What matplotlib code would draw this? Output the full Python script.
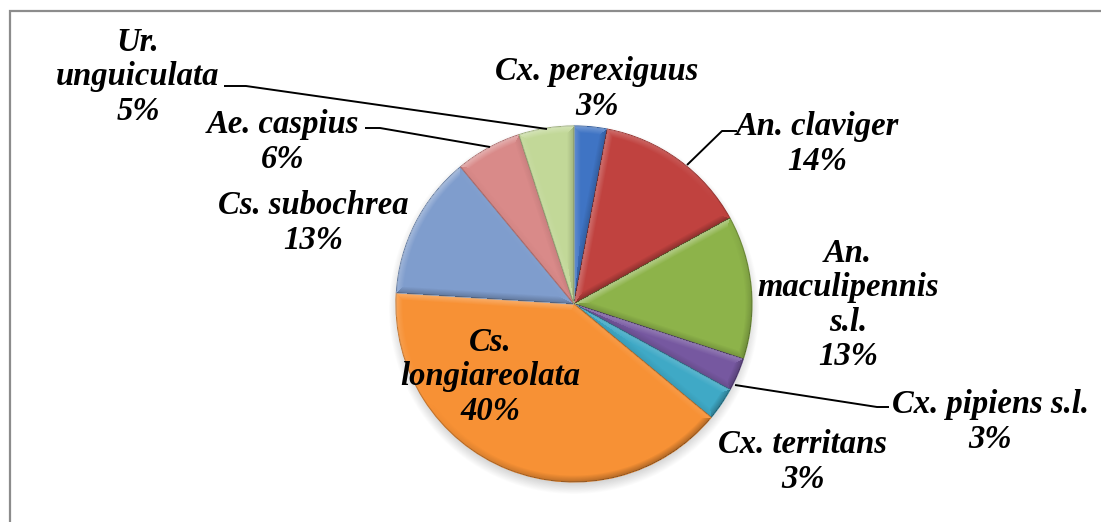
import numpy as np
import matplotlib.pyplot as plt
from matplotlib.patches import Rectangle, Circle
from matplotlib.colors import to_rgb

W, H = 1101, 522

species = ["Cx. perexiguus", "An. claviger", "An.\nmaculipennis\ns.l.",
           "Cx. pipiens s.l.", "Cx. territans", "Cs.\nlongiareolata",
           "Cs. subochrea", "Ae. caspius", "Ur.\nunguiculata"]
percent = [3, 14, 13, 3, 3, 40, 13, 6, 5]
colors = ["#3f74c4", "#c0423f", "#8db34a", "#7658a0", "#3fa9c6",
          "#f79135", "#7f9dcd", "#d98a89", "#c2d898"]

# label centres and leader lines, in pixels from the top-left corner
label_pos = [(597, 89), (817, 144), (848, 305), (990, 422), (803, 462),
             (490, 377), (313, 223), (283, 142), (138, 77)]
leaders = {
    1: [(737, 131), (722, 131), (687, 165)],
    3: [(889, 407), (877, 407), (735, 385)],
    7: [(365, 128), (380, 128), (490, 147)],
    8: [(224, 86), (246, 86), (547, 129)],
}

cx, cy, r = 574, 304, 178


def darker(c, f):
    return tuple(v * f for v in to_rgb(c))


fig = plt.figure(figsize=(W / 100, H / 100), dpi=100)
ax = fig.add_axes([0, 0, 1, 1])

# chart area border (only top and left fall inside the image)
fig.patches.append(Rectangle((9.5 / W, -0.2), 2, 1.2 - 10.5 / H,
                             transform=fig.transFigure, fill=False,
                             edgecolor="#8c8c8c", linewidth=1.6))

# soft shadow under the pie
for k in range(14):
    ax.add_patch(Circle((cx, H - cy - 5), r + 7 - k * 0.8, color="black",
                        alpha=0.012, zorder=1, linewidth=0))

wedges, _ = ax.pie(percent, colors=colors, startangle=90, counterclock=False,
                   center=(cx, H - cy), radius=r, frame=True,
                   wedgeprops=dict(linewidth=0.8, zorder=2))
for w, c in zip(wedges, colors):
    w.set_edgecolor(darker(c, 0.8))
ax.set_xlim(0, W)
ax.set_ylim(0, H)
ax.set_aspect("equal")
ax.axis("off")

# bevel shading on every wedge: light from the upper left
yy, xx = np.mgrid[0:H, 0:W]
px = xx + 0.5 - cx
py = (H - yy - 0.5) - (H - cy)
rho = np.hypot(px, py)
phi = np.arctan2(py, px)
light = np.array([-0.55, 0.83])
bevel = 7.0

bounds = 90 - 3.6 * np.concatenate([[0], np.cumsum(percent)])
inten = np.zeros((H, W))
for i in range(len(percent)):
    t_hi, t_lo = np.radians(bounds[i]), np.radians(bounds[i + 1])
    rel = (phi - t_lo) % (2 * np.pi)
    span = t_hi - t_lo
    inside = (rel <= span) & (rho <= r)
    d_lo = rho * np.sin(np.minimum(rel, np.pi / 2))
    d_hi = rho * np.sin(np.minimum(span - rel, np.pi / 2))
    d_arc = r - rho
    n_lo = np.array([np.cos(t_lo - np.pi / 2), np.sin(t_lo - np.pi / 2)])
    n_hi = np.array([np.cos(t_hi + np.pi / 2), np.sin(t_hi + np.pi / 2)])
    dmin = np.minimum(np.minimum(d_lo, d_hi), d_arc)
    val = np.where(d_arc == dmin, (np.cos(phi) * light[0] + np.sin(phi) * light[1]),
                   np.where(d_lo == dmin, n_lo @ light, n_hi @ light))
    fall = np.clip(1 - dmin / bevel, 0, 1)
    inten = np.where(inside, val * fall, inten)

overlay = np.zeros((H, W, 4))
pos = inten > 0
overlay[pos, :3] = 1.0
overlay[..., 3] = np.abs(inten) * np.where(pos, 0.35, 0.3)
ax.imshow(overlay, extent=(0, W, 0, H), origin="upper", zorder=3,
          interpolation="bilinear")

font = dict(family="Liberation Serif", weight="bold", style="italic",
            fontsize=23.5, color="black")
for i, (name, p) in enumerate(zip(species, percent)):
    x, y = label_pos[i]
    ax.text(x, H - y, f"{name}\n{p}%", ha="center", va="center",
            linespacing=1.15, zorder=5, **font)
    pts = leaders.get(i)
    if pts:
        ax.plot([q[0] for q in pts], [H - q[1] for q in pts], color="black",
                linewidth=1.4, zorder=4, solid_capstyle="butt")

fig.savefig("out.png", dpi=100)
